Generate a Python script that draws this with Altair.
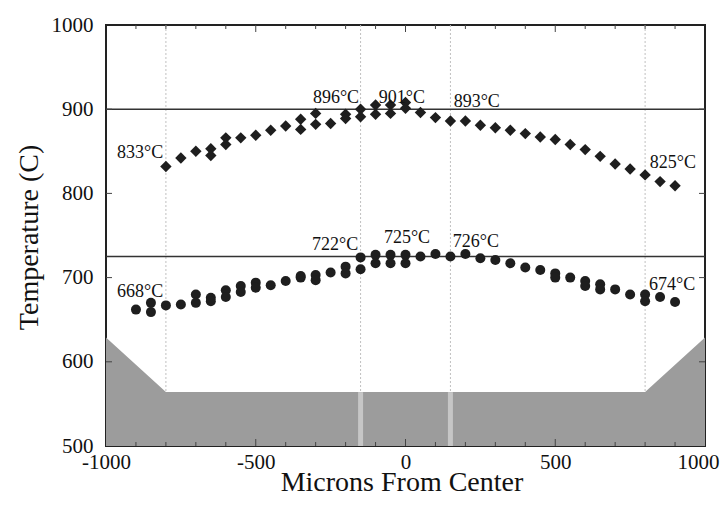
import altair as alt
import pandas as pd

# Upper series (diamonds)
dia_x = [-800, -750, -700, -650, -650, -600, -600, -550, -500, -450, -400, -350, -350,
         -300, -300, -250, -200, -200, -150, -150, -100, -100, -50, -50, 0, 0,
         50, 100, 150, 200, 250, 300, 350, 400, 450, 500, 550, 600, 650, 700, 750, 800, 850, 900]
dia_y = [832, 842, 850, 853, 845, 866, 858, 866, 869, 875, 880, 888, 876,
         895, 882, 883, 894, 889, 900, 891, 905, 894, 905, 895, 908, 901,
         896, 890, 886, 886, 881, 878, 875, 871, 867, 864, 858, 852, 844, 835, 829, 822, 814, 809]

# Lower series (circles)
cir_x = [-900, -850, -850, -800, -750, -700, -700, -650, -650, -600, -600, -550, -550,
         -500, -500, -450, -400, -350, -350, -300, -300, -250, -200, -200, -150, -150,
         -100, -100, -50, -50, 0, 0, 50, 100, 150, 200, 250, 300, 350, 400, 450,
         500, 500, 550, 600, 600, 650, 650, 700, 750, 800, 800, 850, 900]
cir_y = [662, 670, 659, 667, 668, 680, 670, 676, 672, 685, 677, 690, 683,
         694, 688, 691, 696, 700, 702, 703, 697, 706, 713, 705, 724, 710,
         727, 717, 727, 717, 727, 717, 725, 728, 725, 728, 723, 721, 717, 712, 709,
         705, 700, 700, 696, 690, 692, 686, 686, 680, 680, 672, 677, 671]

# Annotations
lab_text = ["833°C", "896°C", "901°C", "893°C", "825°C",
            "668°C", "722°C", "725°C", "726°C", "674°C"]
lab_x = [-886, -232, -12, 238, 893, -886, -235, 5, 235, 890]
lab_y = [842, 907, 907, 903, 830, 677, 733, 741, 736, 685]

# Reference lines
ref_y = [900, 725]
grid_x = [-800, -150, 150, 800]
band_x = [-150, 150]
band_lo = 500
band_hi = 564

# Gray region profile
area_x = [-1000, -800, 800, 1000]
area_y = [629, 564, 564, 629]
area_base = 500

# Tick positions
xtick_vals = [-900, -800, -700, -600, -500, -400, -300, -200, -100, 0,
              100, 200, 300, 400, 500, 600, 700, 800, 900]
ytick_vals = [600, 700, 800, 900]

W, H = 599, 421
FONT = "Liberation Serif"

xs = alt.Scale(domain=[-1000, 1000], nice=False, zero=False)
ys = alt.Scale(domain=[500, 1000], nice=False, zero=False)

xaxis = alt.Axis(values=[-1000, -500, 0, 500, 1000], ticks=False, tickSize=0, domain=False,
                 grid=False, labelFont=FONT, labelFontSize=21, labelColor="#111",
                 labelPadding=5, labelFlush=False, labelOverlap=False, labelBaseline="top",
                 labelExpr="'' + datum.value",
                 labelOffset={"condition": {"test": "datum.value == 1000", "value": -7}, "value": 0},
                 title="Microns From Center", titleFont=FONT, titleFontSize=28,
                 titleFontWeight="normal", titleColor="#111", titleX=W / 2 - 4, titleY=44,
                 titleBaseline="alphabetic", titleAlign="center")
yaxis = alt.Axis(values=[500, 600, 700, 800, 900, 1000], ticks=False, tickSize=0, domain=False,
                 grid=False, labelFont=FONT, labelFontSize=21, labelColor="#111",
                 labelPadding=13, labelFlush=False, labelOverlap=False,
                 labelExpr="'' + datum.value",
                 title="Temperature (C)", titleFont=FONT, titleFontSize=28,
                 titleFontWeight="normal", titleColor="#111", titleX=-69, titleY=212,
                 titleAngle=270, titleBaseline="alphabetic", titleAlign="center")

df_dia = pd.DataFrame({"x": dia_x, "y": dia_y})
df_cir = pd.DataFrame({"x": cir_x, "y": cir_y})
df_lab = pd.DataFrame({"t": lab_text, "x": lab_x, "y": lab_y})
df_ref = pd.DataFrame({"y": ref_y})
df_grid = pd.DataFrame({"x": grid_x})
df_band = pd.DataFrame({"x": band_x, "lo": [band_lo] * len(band_x), "hi": [band_hi] * len(band_x)})
df_area = pd.DataFrame({"x": area_x, "y": area_y, "b": [area_base] * len(area_x)})
df_xt = pd.DataFrame({"x": xtick_vals, "major": [v % 500 == 0 for v in xtick_vals]})
df_yt = pd.DataFrame({"y": ytick_vals})

base_axes = alt.Chart(df_grid).mark_rule(strokeDash=[2, 2], color="#c0c0c0", strokeWidth=1).encode(
    x=alt.X("x:Q", scale=xs, axis=xaxis),
    y=alt.value(0), y2=alt.value(H),
)

area = alt.Chart(df_area).mark_area(color="#9c9c9c", opacity=1).encode(
    x=alt.X("x:Q", scale=xs),
    y=alt.Y("y:Q", scale=ys, axis=yaxis),
    y2="b:Q",
)

bands = alt.Chart(df_band).mark_rule(color="#c6c6c6", strokeWidth=5).encode(
    x=alt.X("x:Q", scale=xs), y=alt.Y("lo:Q", scale=ys), y2="hi:Q",
)

refs = alt.Chart(df_ref).mark_rule(color="#333", strokeWidth=1.5).encode(
    y=alt.Y("y:Q", scale=ys), x=alt.value(0), x2=alt.value(W),
)

bt_minor = alt.Chart(df_xt).transform_filter("!datum.major").mark_rule(color="#444", strokeWidth=1).encode(
    x=alt.X("x:Q", scale=xs), y=alt.value(H), y2=alt.value(H - 4))
bt_major = alt.Chart(df_xt).transform_filter("datum.major").mark_rule(color="#444", strokeWidth=1).encode(
    x=alt.X("x:Q", scale=xs), y=alt.value(H), y2=alt.value(H - 7))
tt_minor = alt.Chart(df_xt).transform_filter("!datum.major").mark_rule(color="#444", strokeWidth=1).encode(
    x=alt.X("x:Q", scale=xs), y=alt.value(0), y2=alt.value(4))
tt_major = alt.Chart(df_xt).transform_filter("datum.major").mark_rule(color="#444", strokeWidth=1).encode(
    x=alt.X("x:Q", scale=xs), y=alt.value(0), y2=alt.value(7))
lt = alt.Chart(df_yt).mark_rule(color="#444", strokeWidth=1).encode(
    y=alt.Y("y:Q", scale=ys), x=alt.value(0), x2=alt.value(6))
rt = alt.Chart(df_yt).mark_rule(color="#444", strokeWidth=1).encode(
    y=alt.Y("y:Q", scale=ys), x=alt.value(W), x2=alt.value(W - 6))

dia = alt.Chart(df_dia).mark_point(shape="diamond", filled=True, size=130, color="#1e1e1e", opacity=1).encode(
    x=alt.X("x:Q", scale=xs), y=alt.Y("y:Q", scale=ys))
cir = alt.Chart(df_cir).mark_point(shape="circle", filled=True, size=100, color="#1e1e1e", opacity=1).encode(
    x=alt.X("x:Q", scale=xs), y=alt.Y("y:Q", scale=ys))

labels = alt.Chart(df_lab).mark_text(font=FONT, fontSize=18, color="#111", align="center",
                                     baseline="alphabetic").encode(
    x=alt.X("x:Q", scale=xs), y=alt.Y("y:Q", scale=ys), text="t:N")

chart = alt.layer(
    base_axes, area, bands, refs, bt_minor, bt_major, tt_minor, tt_major, lt, rt, dia, cir, labels
).properties(
    width=W, height=H,
    autosize=alt.AutoSizeParams(type="none"),
    padding={"left": 98, "top": 17, "right": 15, "bottom": 52},
    background="white",
).configure_view(stroke="#222", strokeWidth=2)

chart.save("out.html", embed_options={"renderer": "svg", "actions": False})
